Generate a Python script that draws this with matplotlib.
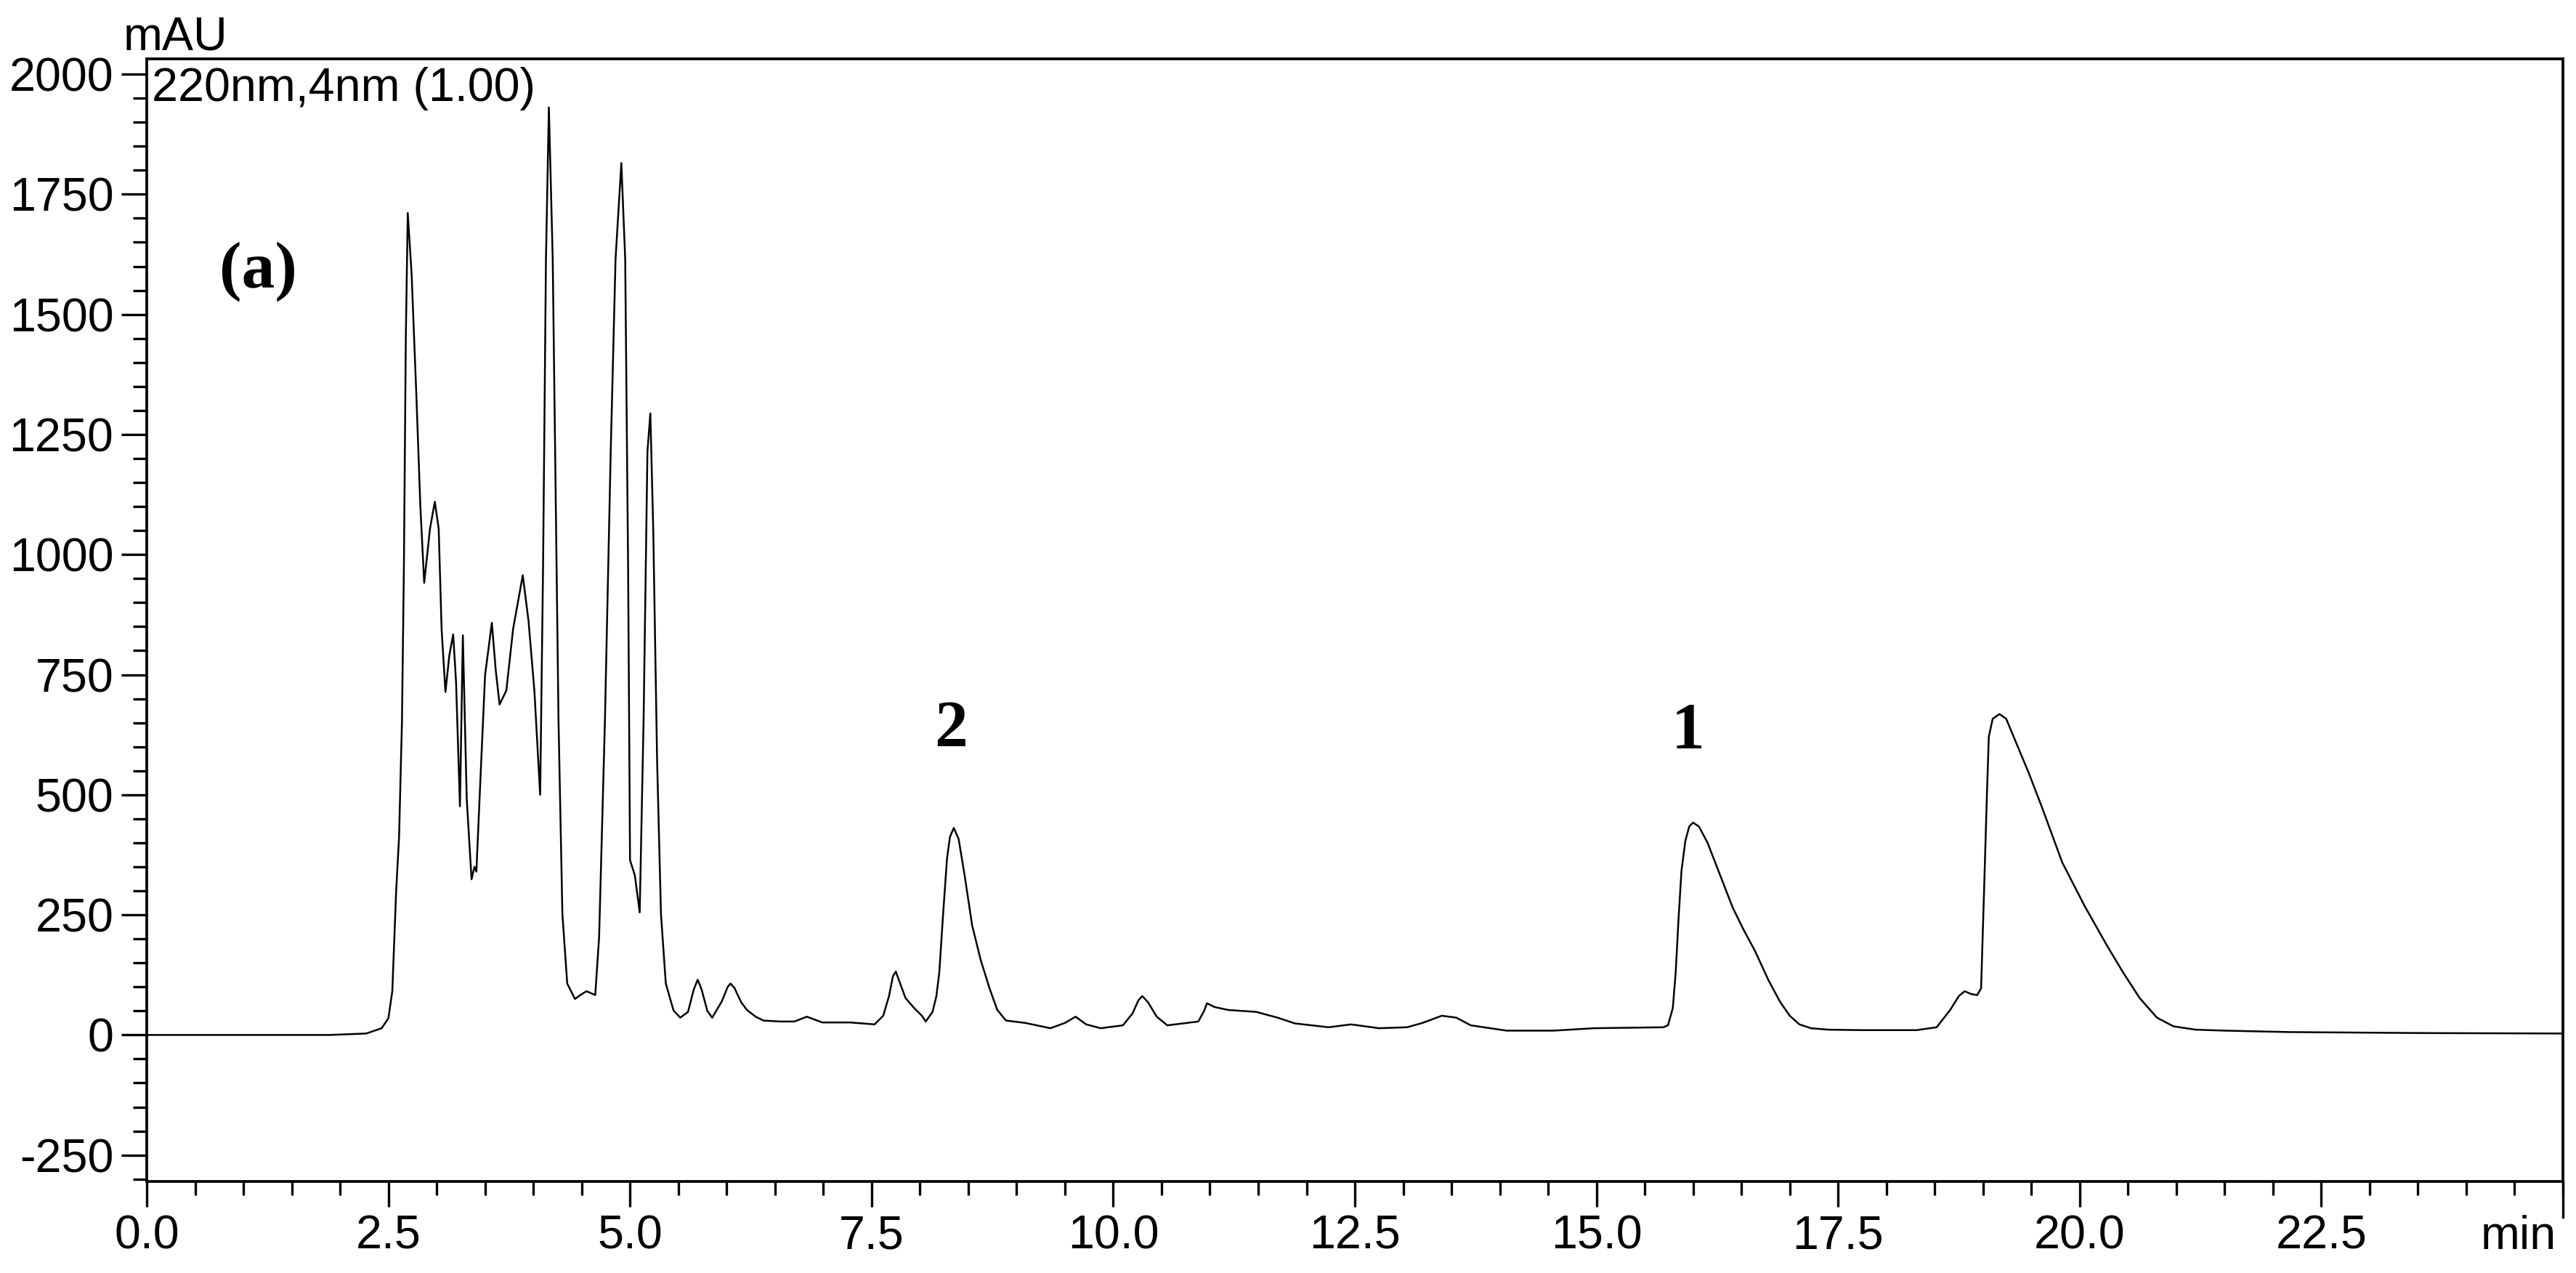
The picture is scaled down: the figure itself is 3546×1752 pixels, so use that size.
import numpy as np
import matplotlib.pyplot as plt
from matplotlib.ticker import MultipleLocator, FormatStrFormatter

# chromatogram trace (time in min, absorbance in mAU)
time_min = [0.0, 1.0, 1.89, 2.27, 2.43, 2.50, 2.54, 2.58, 2.61, 2.64, 2.66, 2.68,
            2.70, 2.74, 2.79, 2.83, 2.87, 2.93, 2.98, 3.02, 3.05, 3.09, 3.13, 3.17,
            3.20, 3.24, 3.27, 3.31, 3.36, 3.39, 3.41, 3.45, 3.50, 3.57, 3.61, 3.65,
            3.72, 3.79, 3.89, 3.95, 4.01, 4.07, 4.10, 4.13, 4.16, 4.20, 4.23, 4.26,
            4.30, 4.35, 4.43, 4.50, 4.55, 4.64, 4.68, 4.74, 4.80, 4.85, 4.91, 4.95,
            4.98, 5.00, 5.05, 5.10, 5.14, 5.18, 5.21, 5.24, 5.28, 5.32, 5.37, 5.45,
            5.52, 5.60, 5.66, 5.70, 5.74, 5.80, 5.85, 5.95, 6.01, 6.04, 6.08, 6.15,
            6.21, 6.30, 6.38, 6.55, 6.70, 6.83, 6.99, 7.28, 7.53, 7.62, 7.68, 7.72,
            7.75, 7.79, 7.85, 7.94, 8.02, 8.06, 8.13, 8.17, 8.20, 8.24, 8.28, 8.31,
            8.35, 8.40, 8.46, 8.54, 8.63, 8.72, 8.80, 8.89, 9.09, 9.35, 9.50, 9.61,
            9.72, 9.87, 10.10, 10.20, 10.26, 10.30, 10.36, 10.45, 10.56, 10.88, 10.94, 10.97,
            11.05, 11.19, 11.48, 11.70, 11.88, 12.23, 12.46, 12.75, 13.04, 13.20, 13.40, 13.55,
            13.70, 14.07, 14.56, 14.97, 15.69, 15.74, 15.79, 15.82, 15.85, 15.88, 15.92, 15.96,
            16.00, 16.06, 16.15, 16.26, 16.41, 16.52, 16.64, 16.78, 16.90, 17.00, 17.10, 17.22,
            17.40, 17.74, 18.31, 18.52, 18.66, 18.75, 18.81, 18.88, 18.94, 18.98, 19.01, 19.04,
            19.06, 19.10, 19.17, 19.24, 19.35, 19.47, 19.61, 19.82, 20.05, 20.28, 20.45, 20.62,
            20.80, 20.97, 21.20, 21.50, 22.17, 23.5, 25.0]
mau = [0, 0, 0, 3, 14, 35, 91, 300, 412, 653, 973, 1454,
       1711, 1583, 1326, 1102, 941, 1054, 1110, 1054, 845, 714, 790, 834,
       733, 476, 832, 492, 324, 350, 340, 524, 749, 858, 760, 688,
       717, 845, 957, 861, 717, 500, 973, 1615, 1931, 1615, 1134, 653,
       252, 107, 75, 85, 91, 83, 204, 653, 1214, 1615, 1815, 1615,
       973, 364, 332, 255, 653, 1214, 1294, 1054, 572, 252, 107, 51,
       36, 48, 95, 115, 95, 50, 36, 70, 100, 107, 98, 68,
       52, 38, 30, 28, 28, 38, 26, 26, 22, 40, 81, 122,
       132, 110, 77, 56, 40, 28, 48, 81, 130, 253, 367, 412,
       431, 408, 335, 228, 155, 97, 52, 30, 25, 14, 25, 38,
       22, 14, 20, 45, 72, 81, 68, 38, 20, 28, 50, 66,
       58, 52, 48, 36, 24, 16, 22, 14, 16, 25, 40, 36,
       20, 9, 9, 14, 16, 20, 56, 130, 244, 342, 404, 434,
       442, 434, 400, 343, 265, 220, 175, 114, 69, 40, 22, 14,
       11, 10, 10, 16, 52, 81, 91, 85, 83, 97, 294, 498,
       621, 658, 668, 658, 605, 547, 474, 359, 269, 187, 130, 77,
       36, 18, 11, 9, 6, 4, 3]

# peak labels
peak_names = ["(a)", "2", "1"]
peak_pos = [(1.15, 1590), (8.32, 635), (15.95, 630)]

plt.rcParams['font.family'] = ['Liberation Sans', 'DejaVu Sans']
plt.rcParams['axes.unicode_minus'] = False

fig = plt.figure(figsize=(11.82, 5.84), dpi=300)
ax = fig.add_axes([0.057, 0.0719, 0.9379, 0.8819])
ax.plot(time_min, mau, color="black", lw=0.6)

ax.set_xlim(0, 25)
ax.set_ylim(-305, 2032)
ax.xaxis.set_minor_locator(MultipleLocator(0.5))
ax.xaxis.set_major_formatter(FormatStrFormatter("%.1f"))
ax.yaxis.set_major_locator(MultipleLocator(250))
ax.yaxis.set_minor_locator(MultipleLocator(50))
ax.set_xticks([0, 2.5, 5, 7.5, 10, 12.5, 15, 17.5, 20, 22.5])
ax.tick_params(which="major", length=8.5, width=0.8, labelsize=15.5, pad=2.5)
ax.tick_params(which="minor", length=4.5, width=0.8)
for s in ax.spines.values():
    s.set_linewidth(0.9)

# x = 25 gets a tick but no number, "min" sits there instead
ax.plot([25, 25], [0, -0.0315], transform=ax.get_xaxis_transform(), color="black",
        lw=0.8, clip_on=False)

# "min" shares the baseline of the x tick labels
min_lbl = ax.text(24.93, 0, "min", transform=ax.get_xaxis_transform(), fontsize=15.5,
                  ha="right", va="top")
xlbl = ax.get_xticklabels()[0]
fig.canvas.draw()
min_lbl.set_y(ax.transAxes.inverted().transform(
    xlbl.get_window_extent().get_points()[1])[1])

fig.text(0.0479, 0.961, "mAU", fontsize=15.5, ha="left", va="baseline")
ax.text(0.002, 0.993, "220nm,4nm (1.00)", transform=ax.transAxes, fontsize=15.5,
        ha="left", va="top")

for name, (x, y) in zip(peak_names, peak_pos):
    ax.text(x, y, name, fontsize=22, fontweight="bold", family="Liberation Serif",
            ha="center", va="center")

plt.savefig("out.png", dpi=300)
